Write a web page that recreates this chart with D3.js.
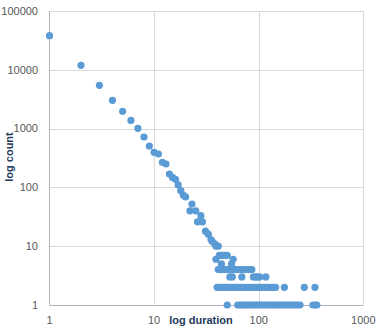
<!DOCTYPE html>
<html>
<head>
<meta charset="utf-8">
<script src="https://cdn.jsdelivr.net/npm/d3@7"></script>
<style>
body{margin:0;background:#fff;}
</style>
</head>
<body>
<div id="svgContainer"></div>
<script>
// durations and counts (pairs)
var duration = [1,2,3,4,5,6,7,8,9,10,11,12,13,14,15,16,17,18,19,20,
	22,23,25,26,28,29,31,33,35,36,38,39,41];
var count = [38000,11900,5450,3030,1970,1380,1010,720,506,395,370,267,250,169,148,137,110,88,74,69,
	40,52,40,26,33,26,18,16,13,12,11,10,10];

// lower rows: count -> list of durations
var rowCounts = [7,6,5,4,3,2,1];
var rowDurations = [
	[42,44,46,48,50],
	[39,57],
	[44,55],
	[41,43,45,47,49,52,55,58,61,64,68,72,76,81,86],
	[53,56,69,89,93,97,102,117],
	[40,42,44,46,48,50,53,56,59,62,65,68,72,76,80,84,88,92,97,102,107,113,119,125,131,138,145,176,273,345],
	[50,63,66,69,72,75,78,82,86,90,94,98,103,108,113,118,124,130,136,142,149,156,163,171,179,187,196,205,215,225,236,248,330,345,360]
];

var xTicks = [1,10,100,1000];
var yTicks = [1,10,100,1000,10000,100000];

var svgWidth = 386, svgHeight = 330;
var margin = {top:11,left:49.5,right:23,bottom:25};

var svg = d3.select("#svgContainer").append("svg")
	.attr("width",svgWidth)
	.attr("height",svgHeight);

var x = d3.scaleLog().domain([1,1000]).range([margin.left, svgWidth - margin.right + 0.3]);
var y = d3.scaleLog().domain([1,100000]).range([svgHeight - margin.bottom, margin.top]);

var points = [];
for(var i = 0; i < duration.length; i++){
	points.push({d:duration[i], c:count[i]});
}
rowCounts.forEach(function(c, j){
	rowDurations[j].forEach(function(d){ points.push({d:d, c:c}); });
});

// grid
svg.append("g")
	.selectAll("line")
	.data(yTicks.slice(1))
	.enter().append("line")
	.attr("x1",x(1)).attr("x2",x(1000))
	.attr("y1",function(d){return Math.round(y(d))+0.5;})
	.attr("y2",function(d){return Math.round(y(d))+0.5;})
	.attr("stroke","#d9d9d9");

svg.append("g")
	.selectAll("line")
	.data(xTicks.slice(1))
	.enter().append("line")
	.attr("x1",function(d){return Math.round(x(d))+0.5;})
	.attr("x2",function(d){return Math.round(x(d))+0.5;})
	.attr("y1",y(100000)).attr("y2",y(1))
	.attr("stroke","#d9d9d9");

// axes
svg.append("line")
	.attr("x1",x(1)).attr("x2",x(1))
	.attr("y1",y(100000)).attr("y2",y(1))
	.attr("stroke","#aeb4c0");
svg.append("line")
	.attr("x1",x(1)).attr("x2",x(1000))
	.attr("y1",Math.round(y(1))+0.5).attr("y2",Math.round(y(1))+0.5)
	.attr("stroke","#aeb4c0");

// tick labels
svg.append("g")
	.selectAll("text")
	.data(yTicks)
	.enter().append("text")
	.attr("x",38)
	.attr("y",function(d){return y(d);})
	.attr("dy","0.35em")
	.attr("text-anchor","end")
	.attr("font-family","Liberation Sans, Arial, sans-serif")
	.attr("font-size","11px")
	.attr("fill","#595959")
	.text(function(d){return d;});

svg.append("g")
	.selectAll("text")
	.data(xTicks)
	.enter().append("text")
	.attr("x",function(d){return x(d);})
	.attr("y",324)
	.attr("text-anchor","middle")
	.attr("font-family","Liberation Sans, Arial, sans-serif")
	.attr("font-size","11px")
	.attr("fill","#595959")
	.text(function(d){return d;});

// axis titles
svg.append("text")
	.attr("x",201)
	.attr("y",324)
	.attr("text-anchor","middle")
	.attr("font-family","Liberation Sans, Arial, sans-serif")
	.attr("font-size","11px")
	.attr("font-weight","bold")
	.attr("fill","#243a5e")
	.text("log duration");

svg.append("text")
	.attr("transform","translate(13,157) rotate(-90)")
	.attr("text-anchor","middle")
	.attr("font-family","Liberation Sans, Arial, sans-serif")
	.attr("font-size","11px")
	.attr("font-weight","bold")
	.attr("fill","#243a5e")
	.text("log count");

// points
svg.append("g")
	.selectAll("circle")
	.data(points)
	.enter().append("circle")
	.attr("cx",function(d){return x(d.d);})
	.attr("cy",function(d){return y(d.c);})
	.attr("r",3.6)
	.attr("fill","#5b9bd5");
</script>
</body>
</html>
